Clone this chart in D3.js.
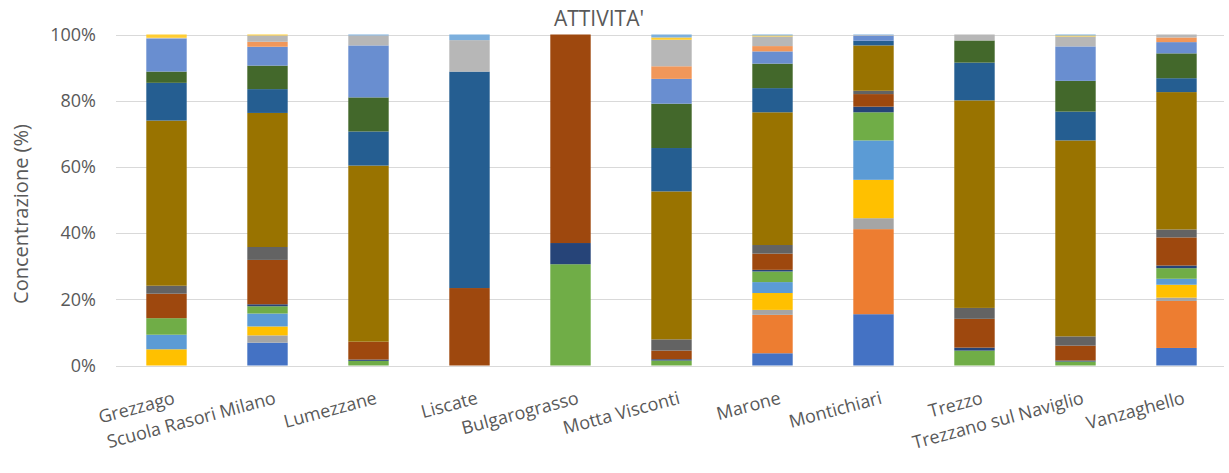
<!DOCTYPE html>
<html>
<head>
<meta charset="utf-8">
<script src="https://cdn.jsdelivr.net/npm/d3@7"></script>
<style>
  body { margin: 0; background: #fff; }
  text { font-family: "Open Sans", sans-serif; fill: #595959; }
</style>
</head>
<body>
<svg></svg>
<script>
let width = 1229,
    height = 473;

// sites (categories)
let sites = ["Grezzago", "Scuola Rasori Milano", "Lumezzane", "Liscate", "Bulgarograsso",
    "Motta Visconti", "Marone", "Montichiari", "Trezzo", "Trezzano sul Naviglio", "Vanzaghello"];

// series values, bottom to top (% of total)
let s1  = [0,    6.9,  0,    0,    0,    0,    3.7,  15.5, 0,    0,    5.3];
let s2  = [0,    0,    0,    0,    0,    0,    11.6, 25.7, 0,    0,    14.2];
let s3  = [0,    2.2,  0,    0,    0,    0,    1.5,  3.3,  0,    0,    1.0];
let s4  = [4.9,  2.7,  0,    0,    0,    0,    5.1,  11.6, 0,    0,    3.9];
let s5  = [4.4,  3.9,  0,    0,    0,    0,    3.3,  11.9, 0,    0,    1.8];
let s6  = [5.0,  2.2,  1.4,  0,    30.6, 1.5,  3.2,  8.5,  4.5,  1.2,  3.2];
let s7  = [0,    0.6,  0.4,  0,    6.4,  0.4,  0.5,  1.7,  0.9,  0.3,  0.8];
let s8  = [7.4,  13.4, 5.4,  23.4, 63.0, 2.6,  4.9,  3.8,  8.7,  4.5,  8.5];
let s9  = [2.4,  3.9,  0,    0,    0,    3.4,  2.6,  1.0,  3.3,  2.8,  2.4];
let s10 = [49.9, 40.5, 53.2, 0,    0,    44.7, 40.1, 13.7, 62.7, 59.2, 41.5];
let s11 = [11.4, 7.2,  10.3, 65.4, 0,    13.1, 7.3,  1.4,  11.4, 8.7,  4.2];
let s12 = [3.4,  7.1,  10.3, 0,    0,    13.4, 7.4,  0,    6.7,  9.3,  7.5];
let s13 = [10.0, 5.7,  15.7, 0,    0,    7.5,  3.7,  1.5,  0,    10.4, 3.4];
let s14 = [0,    1.5,  0,    0,    0,    3.8,  1.6,  0,    0,    0,    1.4];
let s15 = [0.2,  1.9,  3.0,  9.5,  0,    8.0,  2.9,  0.2,  1.8,  3.0,  0.9];
let s16 = [1.0,  0.3,  0,    0,    0,    0.7,  0.3,  0,    0,    0.3,  0];
let s17 = [0,    0,    0.3,  1.7,  0,    0.9,  0.3,  0.2,  0,    0.3,  0];

let series = [s1, s2, s3, s4, s5, s6, s7, s8, s9, s10, s11, s12, s13, s14, s15, s16, s17];
let colors = ["#4472C4", "#ED7D31", "#A5A5A5", "#FFC000", "#5B9BD5", "#70AD47",
    "#264478", "#9E480E", "#636363", "#997300", "#255E91", "#43682B",
    "#698ED0", "#F1975A", "#B7B7B7", "#FFCD33", "#7CAFDD"];

let yTicks = [0, 0.2, 0.4, 0.6, 0.8, 1];

let keys = series.map((s, i) => "s" + (i + 1));
let rows = sites.map((site, j) => {
    let r = { site: site };
    series.forEach((s, i) => r[keys[i]] = s[j]);
    return r;
});

let stack = d3.stack().keys(keys).offset(d3.stackOffsetExpand);
let layers = stack(rows);

let svg = d3.select('svg')
    .attr('width', width)
    .attr('height', height);

let x = d3.scaleBand()
    .domain(sites)
    .range([116, 1227])
    .paddingInner(0.6)
    .paddingOuter(0.3);

let y = d3.scaleLinear()
    .domain([0, 1])
    .range([365.5, 34.5]);

// gridlines
svg.append('g')
    .selectAll('line')
    .data(yTicks)
    .enter().append('line')
    .attr('x1', 116)
    .attr('x2', 1224)
    .attr('y1', d => Math.round(y(d)) + 0.5)
    .attr('y2', d => Math.round(y(d)) + 0.5)
    .attr('stroke', '#D9D9D9')
    .attr('stroke-width', 1);

// bars
svg.append('g')
    .selectAll('g')
    .data(layers)
    .enter().append('g')
    .attr('fill', (d, i) => colors[i])
    .selectAll('rect')
    .data(d => d)
    .enter().append('rect')
    .attr('x', d => x(d.data.site))
    .attr('width', x.bandwidth())
    .attr('y', d => y(d[1]))
    .attr('height', d => y(d[0]) - y(d[1]));

// y tick labels
svg.append('g')
    .selectAll('text')
    .data(yTicks)
    .enter().append('text')
    .attr('x', 96)
    .attr('y', d => y(d))
    .attr('dy', '0.35em')
    .attr('text-anchor', 'end')
    .style('font-size', '18px')
    .text(d => d3.format('.0%')(d));

// x labels
svg.append('g')
    .selectAll('text')
    .data(sites)
    .enter().append('text')
    .attr('transform', d => `translate(${x(d) + x.bandwidth() / 2 + 6},${391}) rotate(-15)`)
    .attr('dy', '0.71em')
    .attr('text-anchor', 'end')
    .style('font-size', '18px')
    .text(d => d);

// y axis title
svg.append('text')
    .attr('transform', `translate(21,214) rotate(-90)`)
    .attr('text-anchor', 'middle')
    .attr('dy', '0.35em')
    .style('font-size', '20px')
    .text('Concentrazione (%)');

// chart title
svg.append('text')
    .attr('x', 599)
    .attr('y', 26)
    .attr('text-anchor', 'middle')
    .style('font-size', '21px')
    .text("ATTIVITA'");
</script>
</body>
</html>
